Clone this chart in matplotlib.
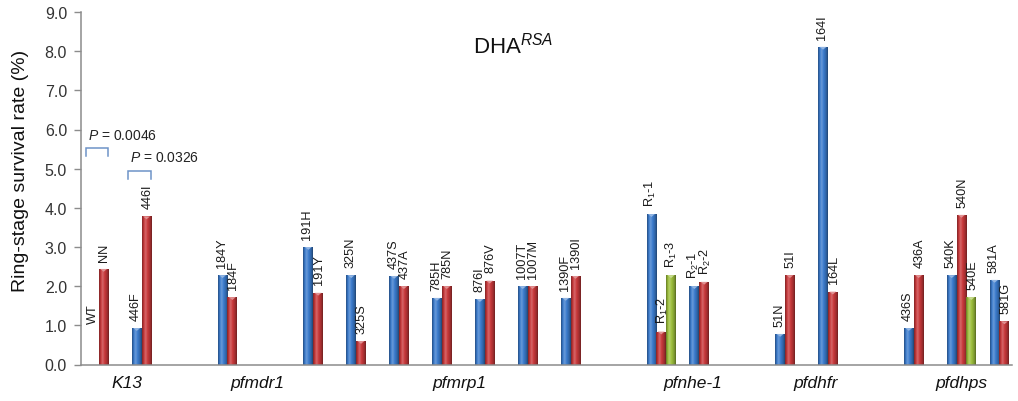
import numpy as np
import matplotlib
matplotlib.use("Agg")
import matplotlib.pyplot as plt
from matplotlib.colors import to_rgb

plt.rcParams['font.family'] = ['Liberation Sans', 'DejaVu Sans']
plt.rcParams['mathtext.fontset'] = 'custom'
plt.rcParams['mathtext.rm'] = 'Liberation Sans'
plt.rcParams['mathtext.it'] = 'Liberation Sans:italic'
plt.rcParams['mathtext.bf'] = 'Liberation Sans:bold'

# ---- data -------------------------------------------------------------
genes = ["K13", "pfmdr1", "pfmrp1", "pfnhe-1", "pfdhfr", "pfdhps"]
gene_loci = [2, 1, 7, 2, 2, 3]          # number of loci shown for each gene

allele_labels = [
    ["WT", "NN"], ["446F", "446I"],
    ["184Y", "184F"],
    ["191H", "191Y"], ["325N", "325S"], ["437S", "437A"], ["785H", "785N"],
    ["876I", "876V"], ["1007T", "1007M"], ["1390F", "1390I"],
    ["R$_1$-1", "R$_1$-2", "R$_1$-3"], ["R$_2$-1", "R$_2$-2"],
    ["51N", "51I"], ["164I", "164L"],
    ["436S", "436A"], ["540K", "540N", "540E"], ["581A", "581G"],
]
survival = [
    [0.00, 2.44], [0.93, 3.78],
    [2.28, 1.72],
    [3.00, 1.83], [2.28, 0.60], [2.26, 2.00], [1.70, 2.00],
    [1.67, 2.14], [2.00, 2.00], [1.70, 2.26],
    [3.84, 0.84, 2.28], [2.00, 2.11],
    [0.78, 2.28], [8.11, 1.86],
    [0.93, 2.28], [2.28, 3.82, 1.72], [2.16, 1.10],
]
p_values = ["0.0046", "0.0326"]

# ---- styling / layout -------------------------------------------------
allele_colors = ["#3b7bcc", "#c8393b", "#9dbf3d"]
bar_w = 0.228
gene_label_nudge = [0.16, 0.69, 0.42, 0.35, 0.22, 0.12]
label_floor = {"WT": 0.85}   # anchor height for a label without a visible bar
label_dx = [-0.6, 0.6, 0.6]  # small sideways shift of labels, in points

fig = plt.figure(figsize=(10.18, 4.02), dpi=100)
ax = fig.add_axes([81 / 1018, 36.5 / 402, 931 / 1018, 352.5 / 402])


def shaded_bar(ax, x, h, w, color):
    rect = ax.bar(x, h, w, align='edge', color=color, linewidth=0, zorder=2)[0]
    if h <= 0:
        return
    base = np.array(to_rgb(color))
    prof = np.array([0.72, 0.9, 1.06, 1.14, 1.1, 1.02, 0.94, 0.86, 0.76, 0.62])
    cols = []
    for p in prof:
        if p >= 1:
            c = base + (1 - base) * (p - 1) * 1.4
        else:
            c = base * p
        cols.append(np.clip(c, 0, 1))
    img = np.array(cols)[None, :, :]
    im = ax.imshow(img, extent=[x, x + w, 0, h], aspect='auto',
                   interpolation='bilinear', zorder=2.1)
    im.set_clip_path(rect)
    # lighter cap at the top of the cylinder
    cap_h = 0.06
    ax.fill([x + w * 0.15, x + w * 0.5, x + w * 0.85], [h, h - cap_h * 1.2, h],
            color=np.clip(base + (1 - base) * 0.45, 0, 1), lw=0, zorder=2.2)


slot = 0
locus = 0
gene_centers = []
locus_x = []
for g, n in enumerate(gene_loci):
    first = slot
    for k in range(n):
        locus_x.append(slot)
        slot += 1
    last_n = len(survival[locus + n - 1])
    gene_centers.append((first + (slot - 1) + last_n * bar_w) / 2 + gene_label_nudge[g])
    locus += n
    slot += 1

for xs, labs, vals in zip(locus_x, allele_labels, survival):
    for j, (lab, v) in enumerate(zip(labs, vals)):
        x0 = xs + j * bar_w
        shaded_bar(ax, x0, v, bar_w, allele_colors[j])
        anchor = max(v, label_floor.get(lab, 0.0))
        ax.annotate(lab, (x0 + bar_w / 2, anchor), xytext=(label_dx[j], 6),
                    textcoords='offset points', rotation=90,
                    ha='center', va='bottom', fontsize=9.2, color='#1a1a1a',
                    zorder=3)

# gene names under the axis
for name, xc in zip(genes, gene_centers):
    ax.text(xc, -0.05, name, transform=ax.get_xaxis_transform(),
            ha='center', va='center', fontsize=12.5, style='italic',
            color='#111111')

# significance brackets for K13
bracket_color = '#6e93c8'
brackets = [(-0.07, 0.44, 5.52, 5.32), (0.91, 1.45, 4.94, 4.74)]
p_pos = [(-0.02, 5.86), (0.96, 5.30)]
for (xa, xb, yt, yb), pv, (tx, ty) in zip(brackets, p_values, p_pos):
    ax.plot([xa, xa, xb, xb], [yb, yt, yt, yb], color=bracket_color,
            lw=1.1, zorder=3, solid_joinstyle='miter')
    ax.text(tx, ty, "$P$ = " + pv, ha='left', va='center', fontsize=10,
            color='#222222')

# title inside the plot
ax.text(0.421, 0.8865, r"DHA$^{\mathit{RSA}}$", transform=ax.transAxes,
        ha='left', va='baseline', fontsize=16, color='#111111')

ax.text(-0.0645, 0.552, "Ring-stage survival rate (%)", transform=ax.transAxes,
        rotation=90, ha='center', va='center', fontsize=14, color='#111111')

ax.set_xlim(-0.186, 21.52)
ax.set_ylim(0, 9.0)
ax.set_yticks(np.arange(0, 9.01, 1.0))
ax.set_yticklabels([f"{t:.1f}" for t in np.arange(0, 9.01, 1.0)])
ax.set_xticks([])
ax.tick_params(axis='y', direction='out', length=5, width=1, color='#8c8c8c',
               labelsize=11.5, labelcolor='#333333', pad=5)
for side in ['top', 'right']:
    ax.spines[side].set_visible(False)
for side in ['left', 'bottom']:
    ax.spines[side].set_color('#8c8c8c')
    ax.spines[side].set_linewidth(1.1)
ax.set_facecolor('white')

fig.savefig("out.png", dpi=100, facecolor='white')
